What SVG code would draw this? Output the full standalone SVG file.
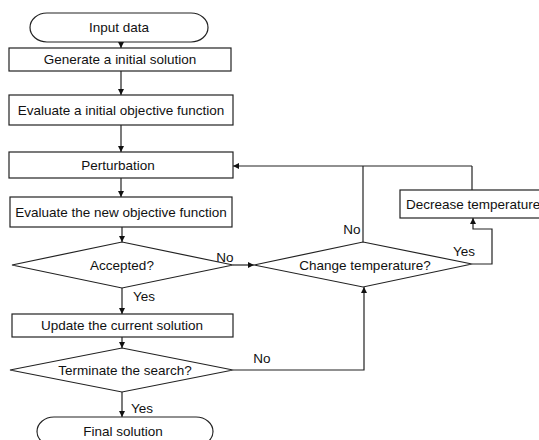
<svg xmlns="http://www.w3.org/2000/svg" width="539" height="440" viewBox="0 0 539 440">
<defs>
<marker id="ah" viewBox="0 0 10 10" refX="10" refY="5" markerWidth="7" markerHeight="6" markerUnits="userSpaceOnUse" orient="auto">
<path d="M0,0 L10,5 L0,10 z" fill="#111"/>
</marker>
</defs>
<style>
.s{fill:#fff;stroke:#222;stroke-width:1.2}
.c{fill:none;stroke:#222;stroke-width:1.2}
.a{marker-end:url(#ah)}
text{font-family:"Liberation Sans",Arial,sans-serif;font-size:13.5px;fill:#111}
.m{text-anchor:middle}
</style>
<rect width="539" height="440" fill="#fff"/>
<g id="connectors">
<path class="c a" d="M121,42 V48"/>
<path class="c a" d="M121,71 V95"/>
<path class="c a" d="M121,125 V152"/>
<path class="c a" d="M121,178 V197"/>
<path class="c a" d="M122,227 V242"/>
<path class="c a" d="M233,265 H254"/>
<path class="c a" d="M122,288 V314"/>
<path class="c a" d="M122,337 V348"/>
<path class="c a" d="M122,392 V417"/>
<path class="c a" d="M233,370 H364 V287"/>
<path class="c a" d="M472,264 H492 V229 H473 V218"/>
<path class="c" d="M472,190 V166"/>
<path class="c" d="M363,242 V166"/>
<path class="c a" d="M472,166 H233"/>
<text class="m" x="225" y="262">No</text>
<text class="m" x="352" y="234">No</text>
<text class="m" x="464" y="256">Yes</text>
<text class="m" x="144" y="301">Yes</text>
<text class="m" x="262" y="363">No</text>
<text class="m" x="142" y="413">Yes</text>
</g>
<g id="input">
<rect class="s" x="30" y="13" width="178" height="29" rx="17" ry="14.5"/>
<text class="m" x="119" y="32">Input data</text>
</g>
<g id="generate">
<rect class="s" x="9" y="48" width="222" height="23"/>
<text class="m" x="120" y="64">Generate a initial solution</text>
</g>
<g id="evaluate-initial">
<rect class="s" x="9" y="95" width="224" height="30"/>
<text class="m" x="121" y="115">Evaluate a initial objective function</text>
</g>
<g id="perturbation">
<rect class="s" x="9" y="152" width="224" height="26"/>
<text class="m" x="118" y="170">Perturbation</text>
</g>
<g id="evaluate-new">
<rect class="s" x="10" y="197" width="222" height="30"/>
<text class="m" x="121" y="217">Evaluate the new objective function</text>
</g>
<g id="accepted">
<polygon class="s" points="122,242 233,265 122,288 12,265"/>
<text class="m" x="122" y="270">Accepted?</text>
</g>
<g id="change-temperature">
<polygon class="s" points="363,242 472,264 363,287 254,265"/>
<text class="m" x="365" y="270">Change temperature?</text>
</g>
<g id="decrease-temperature">
<rect class="s" x="400" y="190" width="145" height="28"/>
<text x="406" y="209">Decrease temperature</text>
</g>
<g id="update">
<rect class="s" x="12" y="314" width="221" height="23"/>
<text class="m" x="122" y="330">Update the current solution</text>
</g>
<g id="terminate">
<polygon class="s" points="122,348 233,370 122,392 10,370"/>
<text class="m" x="125" y="375">Terminate the search?</text>
</g>
<g id="final">
<rect class="s" x="37" y="417" width="176" height="29" rx="17" ry="14.5"/>
<text class="m" x="123" y="436">Final solution</text>
</g>
</svg>
